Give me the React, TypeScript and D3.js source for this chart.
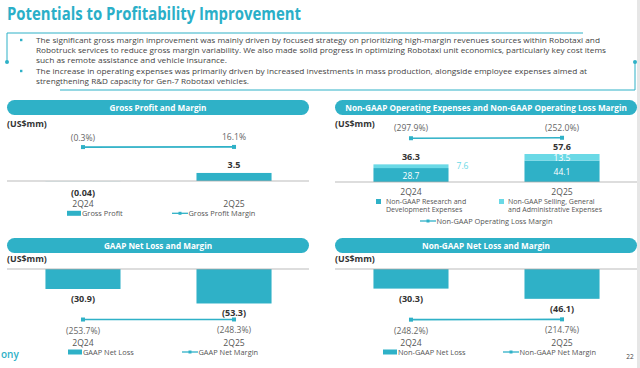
import * as d3 from 'd3'

// ---- data ----
const categories = ['2Q24', '2Q25']
const grossProfit = [-0.04, 3.5]
const grossMargin = [-0.3, 16.1]
const rdExpense = [28.7, 44.1]
const sgaExpense = [7.6, 13.5]
const opexTotal = [36.3, 57.6]
const opLossMargin = [-297.9, -252.0]
const gaapNetLoss = [-30.9, -53.3]
const gaapNetMargin = [-253.7, -248.3]
const nonGaapNetLoss = [-30.3, -46.1]
const nonGaapNetMargin = [-248.2, -214.7]

const bullets = [
  [
    'The significant gross margin improvement was mainly driven by focused strategy on prioritizing high-margin revenues sources within Robotaxi and',
    'Robotruck services to reduce gross margin variability. We also made solid progress in optimizing Robotaxi unit economics, particularly key cost items',
    'such as remote assistance and vehicle insurance.',
  ],
  [
    'The increase in operating expenses was primarily driven by increased investments in mass production, alongside employee expenses aimed at',
    'strengthening R&D capacity for Gen-7 Robotaxi vehicles.',
  ],
]

const TEAL = '#2fb1c7'
const LIGHT = '#6ad9e6'
const FONT = "'Open Sans', sans-serif"
const CAT_FS = 8.6
const VAL_FS = 9
const PCT_FS = 8.6
const LEG_FS = 7.4

const fmtVal = (v: number, d = 1) => (v < 0 ? `(${Math.abs(v).toFixed(d)})` : v.toFixed(d))
const fmtPct = (v: number) => (v < 0 ? `(${Math.abs(v).toFixed(1)}%)` : `${v.toFixed(1)}%`)

function Header({ x, y, w, title }: { x: number; y: number; w: number; title: string }) {
  return (
    <g>
      <rect x={x} y={y} width={w} height={15} rx={7.5} fill={TEAL} />
      <text x={x + w / 2} y={y + 7.8} textAnchor="middle" dominantBaseline="central"
        fill="#fff" fontWeight={700} fontSize={8.2}>{title}</text>
    </g>
  )
}

function MarginLine({ x, y, values, labelDy }: { x: d3.ScaleBand<string>; y: number; values: number[]; labelDy: number }) {
  // secondary axis: wide domain, so the line stays almost flat as in the slide
  const mean = d3.mean(values) as number
  const y2 = d3.scaleLinear().domain([mean - 2000, mean + 2000]).range([y + 20, y - 20])
  const cx = (c: string) => (x(c) as number) + x.bandwidth() / 2
  const line = d3.line<number>().x((_, i) => cx(categories[i])).y(v => y2(v))
  return (
    <g>
      <path d={line(values) as string} fill="none" stroke={TEAL} strokeWidth={1.6} />
      {values.map((v, i) => (
        <g key={i}>
          <rect x={cx(categories[i]) - 2} y={y2(v) - 2} width={4} height={4} fill={TEAL} />
          <text x={cx(categories[i])} y={y2(v) + labelDy} textAnchor="middle" dominantBaseline="central"
            fontSize={PCT_FS} fill="#666">{fmtPct(v)}</text>
        </g>
      ))}
    </g>
  )
}

function Unit({ x, y }: { x: number; y: number }) {
  return <text x={x} y={y} dominantBaseline="central" fontWeight={700} fontSize={8.8} fill="#333">(US$mm)</text>
}

function LineLegend({ x, y, label }: { x: number; y: number; label: string }) {
  return (
    <g>
      <line x1={x} x2={x + 16} y1={y} y2={y} stroke={TEAL} strokeWidth={1.3} />
      <rect x={x + 6.5} y={y - 1.5} width={3} height={3} fill={TEAL} />
      <text x={x + 16.5} y={y} dominantBaseline="central" fontSize={LEG_FS} fill="#555">{label}</text>
    </g>
  )
}

function BarLossPanel({ x0, title, values, margins, barName, lineName, legendBarX, legendLineX }:
  { x0: number; title: string; values: number[]; margins: number[]; barName: string; lineName: string; legendBarX: number; legendLineX: number }) {
  const base = 269
  const x = d3.scaleBand<string>().domain(categories).range([x0 + 1, x0 + 302]).paddingInner(0.503).paddingOuter(0.248)
  const y = d3.scaleLinear().domain([0, -60]).range([base, base + 60 * 0.647])
  return (
    <g>
      <Header x={x0} y={238} w={302} title={title} />
      <Unit x={x0} y={259} />
      {values.map((v, i) => (
        <g key={i}>
          <rect x={x(categories[i])} y={y(0)} width={x.bandwidth()} height={y(v) - y(0)} fill={TEAL} />
          <text x={(x(categories[i]) as number) + x.bandwidth() / 2} y={y(v) + 9.5} textAnchor="middle"
            dominantBaseline="central" fontWeight={700} fontSize={VAL_FS} fill="#333">{fmtVal(v)}</text>
          <text x={(x(categories[i]) as number) + x.bandwidth() / 2} y={342.5} textAnchor="middle"
            dominantBaseline="central" fontSize={CAT_FS} fill="#555">{categories[i]}</text>
        </g>
      ))}
      <line x1={x0} x2={x0 + 302} y1={base} y2={base} stroke="#aaa" strokeWidth={0.8} />
      <MarginLine x={x} y={319.5} values={margins} labelDy={11} />
      <rect x={legendBarX} y={349.5} width={14} height={5} fill={TEAL} />
      <text x={legendBarX + 15} y={352} dominantBaseline="central" fontSize={LEG_FS} fill="#555">{barName}</text>
      <LineLegend x={legendLineX} y={352} label={lineName} />
    </g>
  )
}

function GrossPanel() {
  const x0 = 7
  const base = 181
  const x = d3.scaleBand<string>().domain(categories).range([x0 + 1, x0 + 302]).paddingInner(0.503).paddingOuter(0.248)
  const y = d3.scaleLinear().domain([0, 10]).range([base, base - 23])
  return (
    <g>
      <Header x={x0} y={100} w={302} title="Gross Profit and Margin" />
      <Unit x={x0} y={124} />
      {grossProfit.map((v, i) => {
        const c = (x(categories[i]) as number) + x.bandwidth() / 2
        return (
          <g key={i}>
            <rect x={x(categories[i])} y={Math.min(y(0), y(v))} width={x.bandwidth()} height={Math.abs(y(v) - y(0))} fill={TEAL} />
            <text x={c} y={v < 0 ? y(v) + 11 : y(v) - 8} textAnchor="middle" dominantBaseline="central"
              fontWeight={700} fontSize={VAL_FS} fill="#333">{fmtVal(v, v < 0 ? 2 : 1)}</text>
            <text x={c} y={203.5} textAnchor="middle" dominantBaseline="central" fontSize={CAT_FS} fill="#555">{categories[i]}</text>
          </g>
        )
      })}
      <line x1={x0} x2={x0 + 302} y1={base} y2={base} stroke="#aaa" strokeWidth={0.8} />
      <MarginLine x={x} y={147} values={grossMargin} labelDy={-9.5} />
      <rect x={67} y={210.8} width={14} height={5} fill={TEAL} />
      <text x={82} y={213.3} dominantBaseline="central" fontSize={LEG_FS} fill="#555">Gross Profit</text>
      <LineLegend x={172} y={213.3} label="Gross Profit Margin" />
    </g>
  )
}

function OpexPanel() {
  const x0 = 335
  const base = 182
  const x = d3.scaleBand<string>().domain(categories).range([x0 + 1, x0 + 302]).paddingInner(0.503).paddingOuter(0.248)
  const y = d3.scaleLinear().domain([0, 60]).range([base, base - 60 * 0.486])
  const stack = d3.stack<number>().keys(['rd', 'sga'])
    .value((i, key) => (key === 'rd' ? rdExpense[i] : sgaExpense[i]))(d3.range(categories.length))
  const fills = [TEAL, LIGHT]
  const legFs = 7
  return (
    <g>
      <Header x={x0} y={100} w={302} title="Non-GAAP Operating Expenses and Non-GAAP Operating Loss Margin" />
      <Unit x={x0} y={124} />
      {stack.map((layer, li) => (
        <g key={li}>
          {layer.map((d, i) => (
            <rect key={i} x={x(categories[i])} y={y(d[1])} width={x.bandwidth()} height={y(d[0]) - y(d[1])} fill={fills[li]} />
          ))}
        </g>
      ))}
      {categories.map((c, i) => {
        const cx = (x(c) as number) + x.bandwidth() / 2
        const rdMid = (y(0) + y(rdExpense[i])) / 2
        const sgaMid = (y(rdExpense[i]) + y(opexTotal[i])) / 2
        const sgaThin = y(rdExpense[i]) - y(opexTotal[i]) < 5
        return (
          <g key={c}>
            <text x={cx} y={rdMid} textAnchor="middle" dominantBaseline="central" fontSize={8.5} fill="#fff">{rdExpense[i].toFixed(1)}</text>
            <text x={sgaThin ? (x(c) as number) + x.bandwidth() + 8 : cx} y={sgaThin ? sgaMid - 1 : sgaMid} textAnchor={sgaThin ? 'start' : 'middle'}
              dominantBaseline="central" fontSize={8.5} fill={sgaThin ? LIGHT : '#fff'}>{sgaExpense[i].toFixed(1)}</text>
            <text x={cx} y={y(opexTotal[i]) - 8} textAnchor="middle" dominantBaseline="central" fontWeight={700} fontSize={VAL_FS} fill="#333">{opexTotal[i].toFixed(1)}</text>
            <text x={cx} y={191.5} textAnchor="middle" dominantBaseline="central" fontSize={CAT_FS} fill="#555">{c}</text>
          </g>
        )
      })}
      <line x1={x0} x2={x0 + 302} y1={base} y2={base} stroke="#aaa" strokeWidth={0.8} />
      <MarginLine x={x} y={138} values={opLossMargin} labelDy={-10} />
      <rect x={376} y={199} width={5} height={5} fill={TEAL} />
      <text x={386} y={201} dominantBaseline="central" fontSize={legFs} fill="#555">Non-GAAP Research and</text>
      <text x={386} y={209.5} dominantBaseline="central" fontSize={legFs} fill="#555">Development Expenses</text>
      <rect x={499} y={199} width={5} height={5} fill={LIGHT} />
      <text x={508} y={201} dominantBaseline="central" fontSize={legFs} fill="#555">Non-GAAP Selling, General</text>
      <text x={508} y={209.5} dominantBaseline="central" fontSize={legFs} fill="#555">and Administrative Expenses</text>
      <LineLegend x={420} y={221} label="Non-GAAP Operating Loss Margin" />
    </g>
  )
}

export default function App() {
  const lineYs = [[40, 49.5, 59.5], [71, 80.7]]
  const lineEnds = [[600, 606, 227], [587, 249]]
  return (
    <svg width={640} height={368} style={{ position: 'absolute', left: 0, top: 0, background: '#fff' }}
      fontFamily={FONT}>
      <rect x={0} y={0} width={640} height={368} fill="#fff" />
      <rect x={637} y={0} width={3} height={368} fill="#e6e6e6" />
      <text x={7} y={20} fontSize={17} fontWeight={700} fill="#2aafc8" textLength={294} lengthAdjust="spacingAndGlyphs">
        Potentials to Profitability Improvement
      </text>
      {/* bullet frame */}
      <polyline points="583,33 7,33 7,62" fill="none" stroke={TEAL} strokeWidth={1} />
      <circle cx={7} cy={62} r={2} fill={TEAL} />
      <polyline points="60,90 635,90 635,62" fill="none" stroke={TEAL} strokeWidth={1} />
      <circle cx={635} cy={62} r={2} fill={TEAL} />
      {bullets.map((b, bi) => (
        <g key={bi}>
          <rect x={20} y={lineYs[bi][0] - 1.2} width={2.4} height={2.4} fill={TEAL} />
          {b.map((t, li) => (
            <text key={li} x={36} y={lineYs[bi][li]} dominantBaseline="central" fontSize={7.6} fill="#444"
              textLength={lineEnds[bi][li] - 36} lengthAdjust="spacingAndGlyphs">{t}</text>
          ))}
        </g>
      ))}
      <GrossPanel />
      <OpexPanel />
      <BarLossPanel x0={7} title="GAAP Net Loss and Margin" values={gaapNetLoss} margins={gaapNetMargin}
        barName="GAAP Net Loss" lineName="GAAP Net Margin" legendBarX={68} legendLineX={182} />
      <BarLossPanel x0={335} title="Non-GAAP Net Loss and Margin" values={nonGaapNetLoss} margins={nonGaapNetMargin}
        barName="Non-GAAP Net Loss" lineName="Non-GAAP Net Margin" legendBarX={383} legendLineX={503} />
      <text x={1} y={358} fontSize={10} fontWeight={600} fill={TEAL}>ony</text>
      <text x={630} y={356} textAnchor="middle" dominantBaseline="central" fontSize={6.5} fill="#444">22</text>
    </svg>
  )
}
